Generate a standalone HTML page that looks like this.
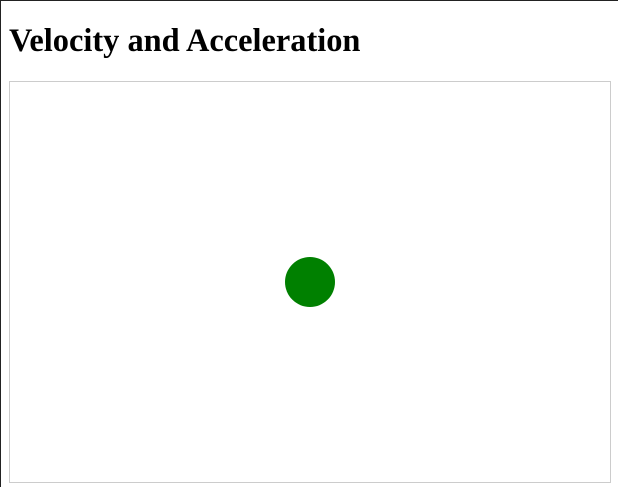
<!DOCTYPE html>
<html>
<head>
<meta charset="utf-8">
<style>
  html, body { margin: 0; padding: 0; width: 618px; height: 487px; overflow: hidden; background: #fff; }
  body { position: relative; border-left: 1px solid #222; border-top: 1px solid #222; box-sizing: border-box; }
  h1 { position: absolute; left: 8px; top: 20px; margin: 0; font-family: "Liberation Serif", serif; font-weight: bold; font-size: 32.4px; line-height: 40px; color: #000; white-space: nowrap; }
  #stage { position: absolute; left: 8px; top: 80px; width: 600px; height: 400px; border: 1px solid #ccc; }
</style>
</head>
<body>
<h1>Velocity and Acceleration</h1>
<svg id="stage" width="600" height="400" viewBox="0 0 600 400"></svg>
<script>
const ballX = [300];
const ballY = [200];
const ballR = [25];
const svg = document.getElementById('stage');
for (let i = 0; i < ballX.length; i++) {
  const c = document.createElementNS('http://www.w3.org/2000/svg', 'circle');
  c.setAttribute('cx', ballX[i]);
  c.setAttribute('cy', ballY[i]);
  c.setAttribute('r', ballR[i]);
  c.setAttribute('fill', 'green');
  
  
  svg.appendChild(c);
}
</script>
</body>
</html>
